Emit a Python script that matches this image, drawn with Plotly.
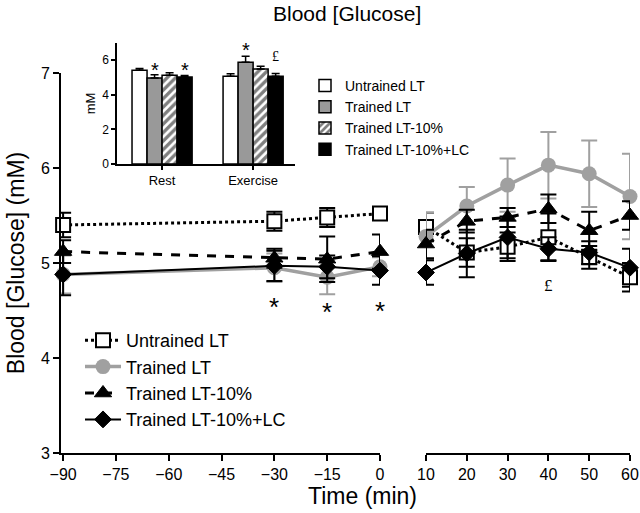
import plotly.graph_objects as go

# ---------------- data ----------------
t_pre = [-90, -30, -15, 0]
t_ex = [10, 20, 30, 40, 50, 60]

untr_pre = [5.40, 5.44, 5.48, 5.52]
untr_pre_err = [0.13, 0.10, 0.10, 0.05]
untr_ex = [5.38, 5.11, 5.17, 5.27, 5.06, 4.85]
untr_ex_err = [0.15, 0.15, 0.15, 0.25, 0.12, 0.15]

tr_pre = [4.88, 4.95, 4.85, 4.96]
tr_pre_err = [0.20, 0.15, 0.18, 0.10]
tr_ex = [5.28, 5.60, 5.82, 6.03, 5.94, 5.70]
tr_ex_err = [0.25, 0.20, 0.28, 0.35, 0.35, 0.45]

t10_pre = [5.12, 5.05, 5.04, 5.12]
t10_pre_err = [0.12, 0.10, 0.24, 0.18]
t10_ex = [5.20, 5.44, 5.48, 5.57, 5.34, 5.50]
t10_ex_err = [0.15, 0.12, 0.10, 0.15, 0.20, 0.15]

lc_pre = [4.88, 4.97, 4.96, 4.92]
lc_pre_err = [0.22, 0.16, 0.12, 0.15]
lc_ex = [4.90, 5.10, 5.27, 5.15, 5.11, 4.95]
lc_ex_err = [0.13, 0.25, 0.22, 0.12, 0.12, 0.20]

# inset bar chart
bar_cats = [0, 1]
bar_labels = ["Rest", "Exercise"]
bar_untr = [5.42, 5.07]
bar_untr_err = [0.10, 0.15]
bar_tr = [4.97, 5.88]
bar_tr_err = [0.20, 0.35]
bar_t10 = [5.13, 5.50]
bar_t10_err = [0.15, 0.15]
bar_lc = [5.04, 5.08]
bar_lc_err = [0.08, 0.15]

series_names = ["Untrained LT", "Trained LT", "Trained LT-10%", "Trained LT-10%+LC"]

GRAY = "#a0a0a0"
FONT = "Liberation Sans, Arial, sans-serif"

fig = go.Figure()

def add_series(x_pre, y_pre, e_pre, x_ex, y_ex, e_ex, name, color, dash, width,
               symbol, msize, mcolor, mline_color, mline_w, ecolor):
    for i, (xx, yy, ee, xa) in enumerate([(x_pre, y_pre, e_pre, "x"), (x_ex, y_ex, e_ex, "x2")]):
        fig.add_trace(go.Scatter(
            x=xx, y=yy, xaxis=xa, yaxis="y", name=name, legendgroup=name,
            showlegend=(i == 0), legend="legend", cliponaxis=False,
            mode="lines+markers",
            line=dict(color=color, dash=dash, width=width),
            marker=dict(symbol=symbol, size=msize, color=mcolor,
                        line=dict(color=mline_color, width=mline_w)),
            error_y=dict(type="data", array=ee, visible=True, color=ecolor,
                         thickness=2, width=8),
        ))

add_series(t_pre, untr_pre, untr_pre_err, t_ex, untr_ex, untr_ex_err,
           series_names[0], "black", "dot", 3, "square", 14, "white", "black", 2, "black")
add_series(t_pre, tr_pre, tr_pre_err, t_ex, tr_ex, tr_ex_err,
           series_names[1], GRAY, "solid", 3.5, "circle", 15, GRAY, GRAY, 0, GRAY)
add_series(t_pre, t10_pre, t10_pre_err, t_ex, t10_ex, t10_ex_err,
           series_names[2], "black", "dash", 3, "triangle-up", 15, "black", "black", 1, "black")
add_series(t_pre, lc_pre, lc_pre_err, t_ex, lc_ex, lc_ex_err,
           series_names[3], "black", "solid", 2, "diamond", 13, "black", "black", 1, "black")

# inset bars
bar_specs = [
    (bar_untr, bar_untr_err, series_names[0], dict(color="white", line=dict(color="black", width=1.5))),
    (bar_tr, bar_tr_err, series_names[1], dict(color="#999999", line=dict(color="black", width=1.5))),
    (bar_t10, bar_t10_err, series_names[2], dict(color="white", line=dict(color="black", width=1.5),
                                                  pattern=dict(shape="/", fgcolor="black", bgcolor="white",
                                                               size=6, solidity=0.55))),
    (bar_lc, bar_lc_err, series_names[3], dict(color="black", line=dict(color="black", width=1.5))),
]
for vals, errs, nm, mk in bar_specs:
    fig.add_trace(go.Bar(
        x=bar_cats, y=vals, xaxis="x3", yaxis="y3", name=nm, legend="legend2",
        marker=mk,
        error_y=dict(type="data", symmetric=False, array=errs, arrayminus=[0, 0],
                     color="black", thickness=1.5, width=4),
    ))

# ---------------- layout geometry ----------------
L, R, T, B = 61, 10, 30, 60
W, H = 640, 513
PW = W - L - R
PH = H - T - B

def px(x):
    return (x - L) / PW

def py(y):
    return (H - B - y) / PH

axis_common = dict(showgrid=False, zeroline=False, showline=True, linecolor="black",
                   linewidth=2, ticks="outside", tickcolor="black", tickwidth=2, automargin=False,
                   ticklen=6, ticklabeloverflow="allow",
                   tickfont=dict(family=FONT, size=16, color="black"))

fig.update_layout(
    width=W, height=H,
    margin=dict(l=L, r=R, t=T, b=B, autoexpand=False),
    paper_bgcolor="white", plot_bgcolor="white",
    barmode="group", bargap=0.34, bargroupgap=0,
    font=dict(family=FONT, color="black"),
    xaxis=dict(domain=[0, px(380)], range=[-90.6, 0], tickvals=[-90, -75, -60, -45, -30, -15, 0],
               anchor="y", **axis_common),
    xaxis2=dict(domain=[px(426), 1], range=[10, 60], tickvals=[10, 20, 30, 40, 50, 60],
                anchor="y", **axis_common),
    yaxis=dict(domain=[0, py(73)], range=[3, 7], tickvals=[3, 4, 5, 6, 7], anchor="x",
               title=dict(text="Blood [Glucose] (mM)", font=dict(family=FONT, size=23), standoff=10),
               **axis_common),
    xaxis3=dict(domain=[px(117), px(295)], range=[-0.495, 1.46], tickvals=bar_cats,
                ticktext=bar_labels, anchor="y3", showgrid=False, zeroline=False, showline=True,
                linecolor="black", linewidth=1.5, ticks="outside", tickcolor="black", tickwidth=1.5,
                ticklen=4, automargin=False, tickfont=dict(family=FONT, size=13, color="black")),
    yaxis3=dict(domain=[py(164), py(43)], range=[0, 7], tickvals=[0, 2, 4, 6], anchor="x3",
                showgrid=False, zeroline=False, showline=True, linecolor="black", linewidth=1.5,
                ticks="outside", tickcolor="black", tickwidth=1.5, ticklen=4, automargin=False,
                tickfont=dict(family=FONT, size=12, color="black"),
                title=dict(text="mM", font=dict(family=FONT, size=13), standoff=4)),
    legend=dict(x=px(80), y=py(322), xanchor="left", yanchor="top", bgcolor="rgba(0,0,0,0)",
                font=dict(family=FONT, size=18, color="black"), tracegroupgap=0,
                itemwidth=36, traceorder="normal"),
    legend2=dict(x=px(305), y=py(70), xanchor="left", yanchor="top", bgcolor="rgba(0,0,0,0)",
                 font=dict(family=FONT, size=14, color="black"), tracegroupgap=0,
                 traceorder="normal"),
    showlegend=True,
)

annotations = [
    dict(text="Blood [Glucose]", x=px(347), y=py(13), xref="paper", yref="paper",
         yanchor="middle", showarrow=False, font=dict(family=FONT, size=21, color="black")),
    dict(text="Time (min)", x=px(362), y=py(496), xref="paper", yref="paper",
         yanchor="middle", showarrow=False, font=dict(family=FONT, size=23, color="black")),
]
# significance marks on main plot
for tx, yv in [(-30, 4.54), (-15, 4.48), (0, 4.50)]:
    annotations.append(dict(text="*", x=tx, y=yv, xref="x", yref="y", showarrow=False,
                            font=dict(family=FONT, size=26, color="black")))
annotations.append(dict(text="£", x=40, y=4.76, xref="x2", yref="y", showarrow=False,
                        font=dict(family="Liberation Serif, Times New Roman, serif", size=17, color="black")))
# inset marks
annotations += [
    dict(text="*", x=-0.0825, y=5.45, xref="x3", yref="y3", showarrow=False,
         font=dict(family=FONT, size=20, color="black")),
    dict(text="*", x=0.2475, y=5.45, xref="x3", yref="y3", showarrow=False,
         font=dict(family=FONT, size=20, color="black")),
    dict(text="*", x=0.9175, y=6.6, xref="x3", yref="y3", showarrow=False,
         font=dict(family=FONT, size=20, color="black")),
    dict(text="^", x=0.9175, y=7.75, xref="x3", yref="y3", showarrow=False,
         font=dict(family=FONT, size=13, color="black")),
    dict(text="£", x=1.2475, y=6.2, xref="x3", yref="y3", showarrow=False,
         font=dict(family="Liberation Serif, Times New Roman, serif", size=14, color="black")),
]
fig.update_layout(annotations=annotations)

fig.write_html("out.html", config={"displayModeBar": False},
               post_script="document.body.style.margin='0px';document.body.style.padding='0px';")
